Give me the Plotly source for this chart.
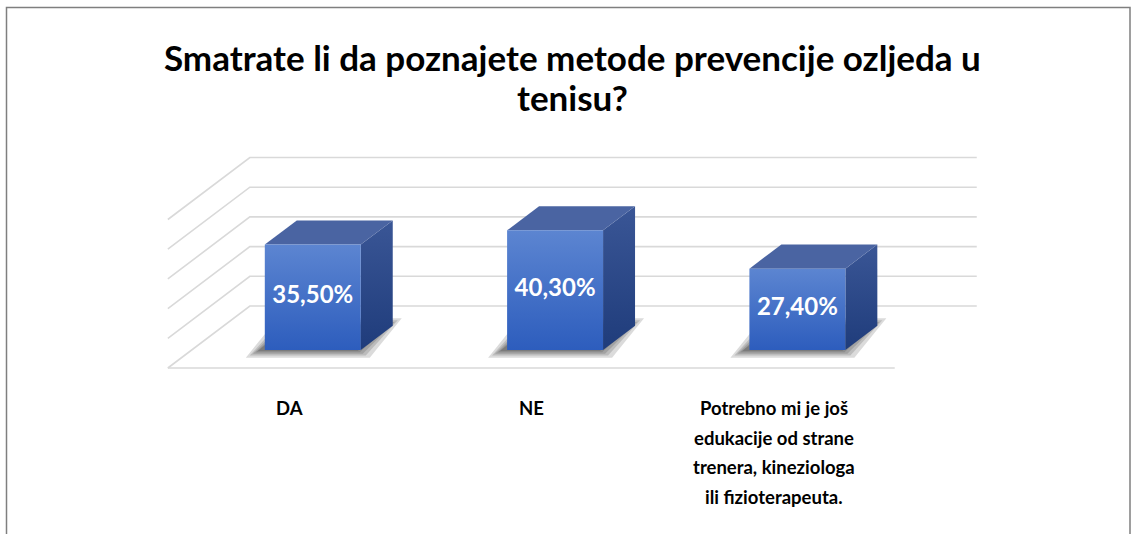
import plotly.graph_objects as go

# data
category_lines = [
    ["DA"],
    ["NE"],
    ["Potrebno mi je još", "edukacije od strane", "trenera, kineziologa", "ili fizioterapeuta."],
]
values = [35.5, 40.3, 27.4]
value_labels = ["35,50%", "40,30%", "27,40%"]
grid_ticks = [0, 10, 20, 30, 40, 50]
title_lines = ["Smatrate li da poznajete metode prevencije ozljeda u", "tenisu?"]

W, H = 1134, 534
FONT = "Lato"

# pixel scale of the plot (category units on x, percent on y)
PX_X = 242.3
PX_Y = 2.97
X0_PX = 289
Y0_PX = 368

# oblique depth offset of the 3D floor, in axis units
DX = 82 / PX_X
DY = 62 / PX_Y
D0 = 0.29      # front of bar, fraction of depth
BD = 0.39      # bar depth, fraction
HW = 0.198     # half bar width


def proj(x, y, d):
    return x + d * DX, y + d * DY


fig = go.Figure()

# walls / floor gridlines
gx, gy = [], []
for t in grid_ticks:
    a = proj(-0.5, t, 0)
    b = proj(-0.5, t, 1)
    c = proj(len(values) - 0.5, t, 1)
    gx += [a[0], b[0], c[0], None]
    gy += [a[1], b[1], c[1], None]
a = proj(-0.5, 0, 0)
c = proj(len(values) - 0.5, 0, 0)
gx += [a[0], c[0]]
gy += [a[1], c[1]]
fig.add_trace(go.Scatter(x=gx, y=gy, mode="lines", line=dict(color="#d9d9d9", width=1.6),
                         hoverinfo="skip", showlegend=False))

# soft shadows on the floor
for i, v in enumerate(values):
    xf0 = i + D0 * DX - HW
    xf1 = i + D0 * DX + HW
    yb = D0 * DY
    for g in [14, 10, 7, 4, 2]:
        ex = g / PX_X
        ey = g / PX_Y * 0.55
        sx = -5 / PX_X
        px = [xf0 - ex + sx, xf1 + ex + sx, xf1 + BD * DX + ex + sx, xf0 + BD * DX - ex + sx]
        py = [yb - ey, yb - ey, yb + BD * DY + ey, yb + BD * DY + ey]
        fig.add_trace(go.Scatter(x=px + [px[0]], y=py + [py[0]], fill="toself", mode="lines",
                                 line=dict(width=0), fillcolor="rgba(30,30,30,0.16)",
                                 hoverinfo="skip", showlegend=False))

# 3D bars
for i, v in enumerate(values):
    xf0 = i + D0 * DX - HW
    xf1 = i + D0 * DX + HW
    yb = D0 * DY
    yt = yb + v
    bx, by = BD * DX, BD * DY
    # side face
    fig.add_trace(go.Scatter(
        x=[xf1, xf1 + bx, xf1 + bx, xf1, xf1], y=[yb, yb + by, yt + by, yt, yb],
        fill="toself", mode="lines", line=dict(width=0),
        fillgradient=dict(type="vertical", start=yb, stop=yt + by,
                          colorscale=[[0, "#1f3c7b"], [1, "#3a5696"]]),
        hoverinfo="skip", showlegend=False))
    # top face
    fig.add_trace(go.Scatter(
        x=[xf0, xf1, xf1 + bx, xf0 + bx, xf0], y=[yt, yt, yt + by, yt + by, yt],
        fill="toself", mode="lines", line=dict(width=0), fillcolor="#4a64a2",
        hoverinfo="skip", showlegend=False))
    # front face
    fig.add_trace(go.Scatter(
        x=[xf0, xf1, xf1, xf0, xf0], y=[yb, yb, yt, yt, yb],
        fill="toself", mode="lines", line=dict(width=0),
        fillgradient=dict(type="vertical", start=yb, stop=yt,
                          colorscale=[[0, "#2d5dbd"], [1, "#5c85d1"]]),
        hoverinfo="skip", showlegend=False))

# value labels
fig.add_trace(go.Scatter(
    x=[i + D0 * DX for i in range(len(values))],
    y=[D0 * DY + v / 2 for v in values],
    mode="text", text=value_labels,
    textfont=dict(family=FONT, size=24, color="white", weight="bold"),
    hoverinfo="skip", showlegend=False))

annotations = []
# category labels
for i, lines in enumerate(category_lines):
    for k, line in enumerate(lines):
        annotations.append(dict(
            x=i, y=1 - (408 + 29.5 * k) / H, xref="x", yref="paper",
            text=line, showarrow=False, xanchor="center", yanchor="middle",
            font=dict(family=FONT, size=18.5, color="black", weight="bold")))
# title
for k, line in enumerate(title_lines):
    annotations.append(dict(
        x=572 / W, y=1 - (57 + 40 * k) / H, xref="paper", yref="paper",
        text=line, showarrow=False, xanchor="center", yanchor="middle",
        font=dict(family=FONT, size=35, color="black", weight="bold")))

fig.update_layout(
    width=W, height=H,
    margin=dict(l=0, r=0, t=0, b=0),
    paper_bgcolor="white", plot_bgcolor="white",
    xaxis=dict(range=[-X0_PX / PX_X, (W - X0_PX) / PX_X], visible=False, fixedrange=True),
    yaxis=dict(range=[(Y0_PX - H) / PX_Y, Y0_PX / PX_Y], visible=False, fixedrange=True),
    annotations=annotations,
    shapes=[dict(type="rect", xref="paper", yref="paper",
                 x0=6.5 / W, x1=1130 / W, y0=-0.05, y1=1 - 7.5 / H,
                 line=dict(color="#7f7f7f", width=1.5))],
    showlegend=False,
)

# page body margin off so the figure sits at the window origin
fig.write_html("out.html", config={"displayModeBar": False},
               post_script="document.body.style.margin='0';")
